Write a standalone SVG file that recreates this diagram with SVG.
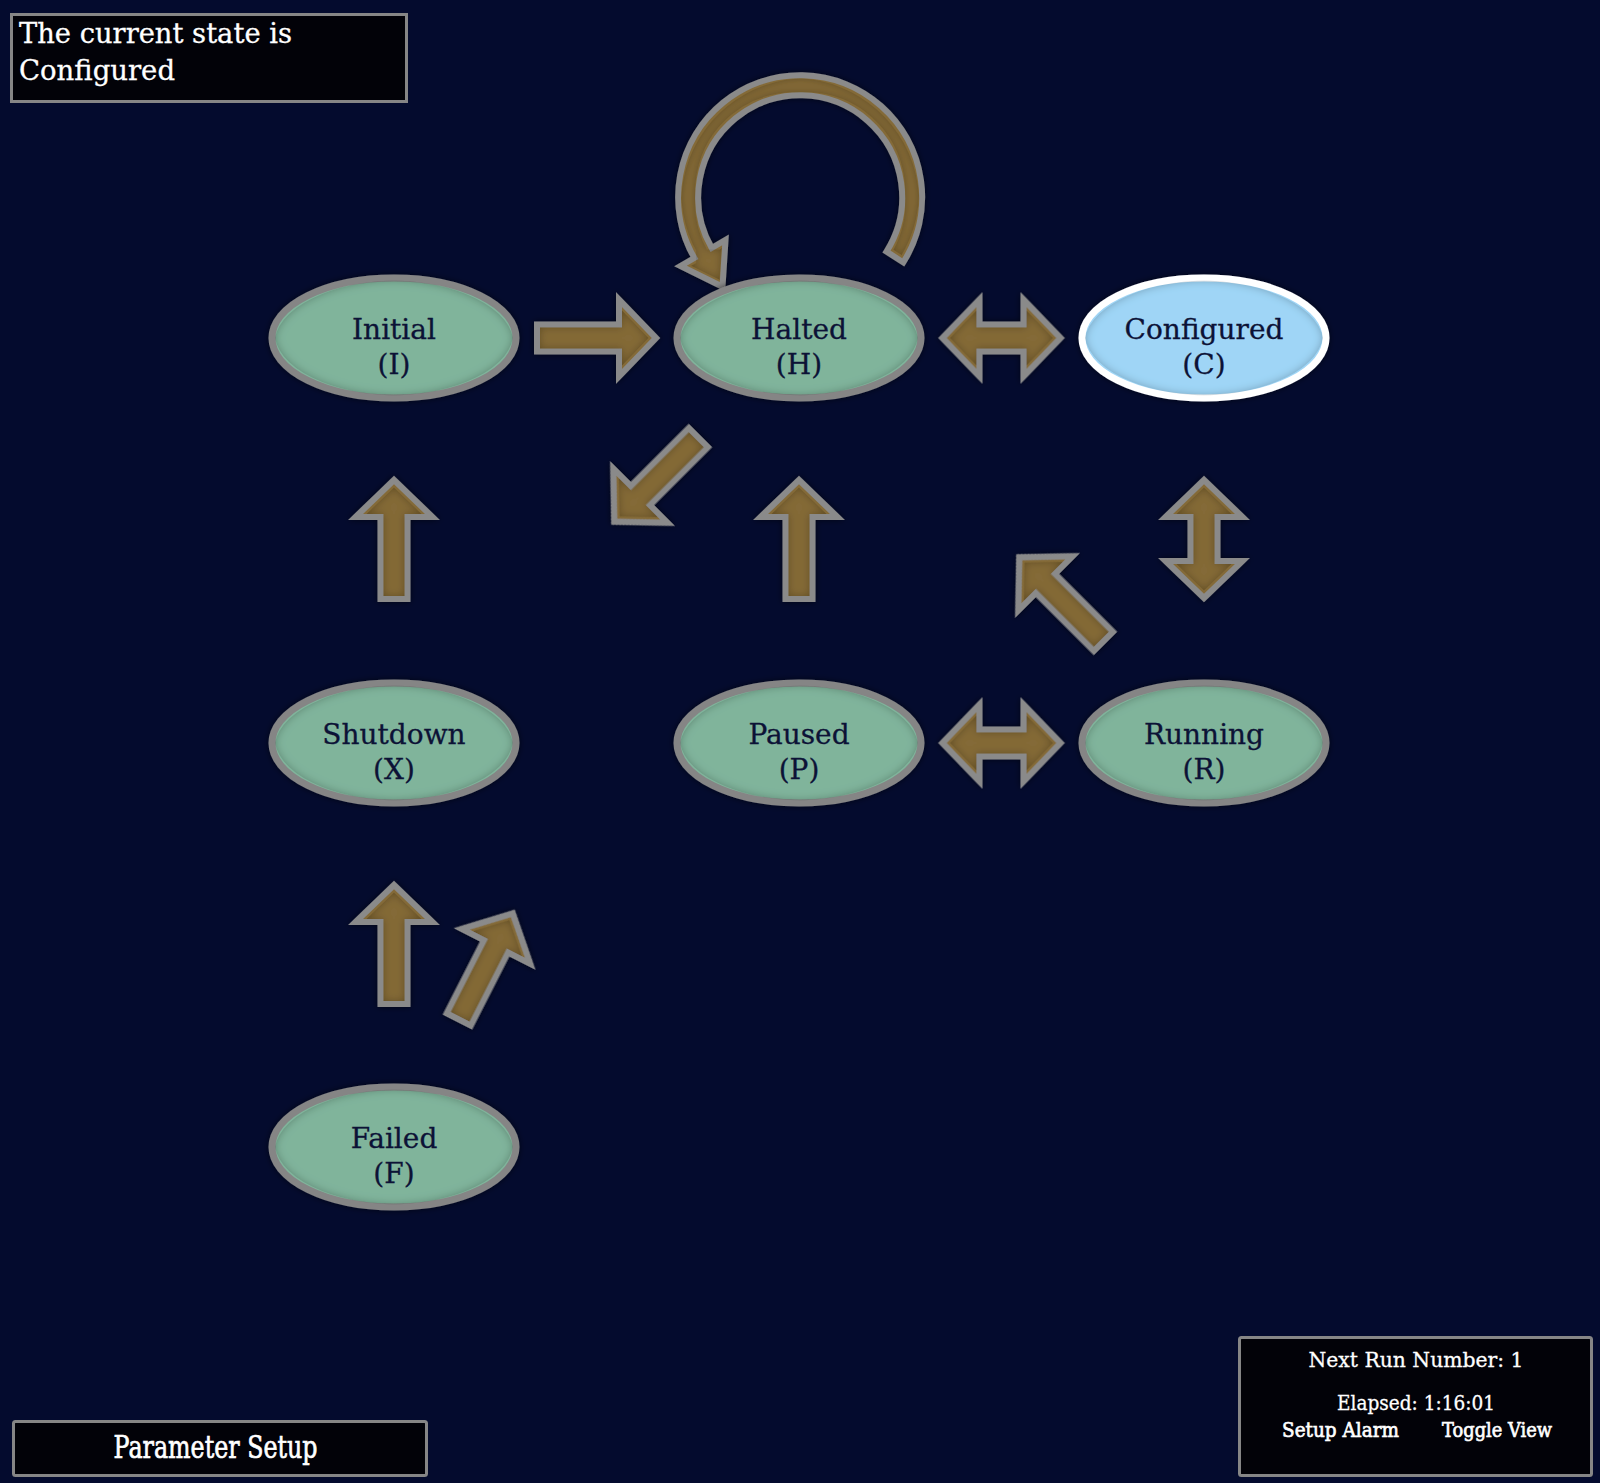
<svg xmlns="http://www.w3.org/2000/svg" xmlns:xlink="http://www.w3.org/1999/xlink" width="1600" height="1483" viewBox="0 0 1600 1483">
<defs>
<style>
.bg{fill:#040b2e}
.node{fill:#80b49b;stroke:#858585;stroke-width:7}
.node.current{fill:#9fd5f6;stroke:#ffffff}
.arrow{fill:#846b39;stroke:#8a8a8a;stroke-width:6;stroke-linejoin:miter}
.nt{font-family:"DejaVu Serif","Liberation Serif",serif;font-size:28px;fill:#0c1236;stroke:#0c1236;stroke-width:0.3;text-anchor:middle}
.panel{fill:#020208;stroke:#868686;stroke-width:3}
.pt{font-family:"DejaVu Serif","Liberation Serif",serif;fill:#ffffff;stroke:#ffffff;stroke-width:0.3}
.pt.heavy{stroke-width:0.7}
</style>
<filter id="fx" x="-20%" y="-20%" width="140%" height="140%">
<feGaussianBlur in="SourceAlpha" stdDeviation="3" result="ob"/>
<feComponentTransfer in="ob" result="outer"><feFuncA type="linear" slope="0.6"/></feComponentTransfer>
<feMorphology in="SourceAlpha" operator="erode" radius="6" result="core"/>
<feFlood flood-color="#000" flood-opacity="0.5"/>
<feComposite in2="core" operator="out"/>
<feGaussianBlur stdDeviation="4.5"/>
<feComposite in2="core" operator="in" result="inner"/>
<feMerge><feMergeNode in="outer"/><feMergeNode in="SourceGraphic"/><feMergeNode in="inner"/></feMerge>
</filter>
<path id="up" d="M0,-59 L38.5,-22 L13.5,-22 L13.5,60 L-13.5,60 L-13.5,-22 L-38.5,-22 Z"/>
<path id="dbl" d="M0,-59 L38.5,-22 L13.5,-22 L13.5,22 L38.5,22 L0,59 L-38.5,22 L-13.5,22 L-13.5,-22 L-38.5,-22 Z"/>
</defs>
<rect class="bg" x="0" y="0" width="1600" height="1483"/>

<g id="connectors">
<use xlink:href="#up" href="#up" class="arrow" filter="url(#fx)" transform="translate(597,338) rotate(90)"/>
<use xlink:href="#dbl" href="#dbl" class="arrow" filter="url(#fx)" transform="translate(1001.5,338) rotate(90)"/>
<use xlink:href="#dbl" href="#dbl" class="arrow" filter="url(#fx)" transform="translate(1001.5,743) rotate(90)"/>
<use xlink:href="#up" href="#up" class="arrow" filter="url(#fx)" transform="translate(394,539)"/>
<use xlink:href="#up" href="#up" class="arrow" filter="url(#fx)" transform="translate(799,539)"/>
<use xlink:href="#up" href="#up" class="arrow" filter="url(#fx)" transform="translate(394,944)"/>
<use xlink:href="#up" href="#up" class="arrow" filter="url(#fx)" transform="translate(486,966) rotate(27)"/>
<use xlink:href="#up" href="#up" class="arrow" filter="url(#fx)" transform="translate(656,480) rotate(225)"/>
<use xlink:href="#up" href="#up" class="arrow" filter="url(#fx)" transform="translate(1061,599) rotate(-45)"/>
<use xlink:href="#dbl" href="#dbl" class="arrow" filter="url(#fx)" transform="translate(1204,539)"/>
<path id="loop-halted" class="arrow" filter="url(#fx)" d="M903.3,262.4 A122,122 0 1 0 694.35,258 L680.5,266 L722.5,286.8 L725.5,240 L711.7,248 A102,102 0 1 1 886.5,251.6 Z"/>
</g>

<g id="node-initial">
<ellipse class="node" filter="url(#fx)" cx="394" cy="338" rx="122" ry="60"/>
<text class="nt" x="394" y="339">Initial</text>
<text class="nt" x="394" y="374">(I)</text>
</g>
<g id="node-halted">
<ellipse class="node" filter="url(#fx)" cx="799" cy="338" rx="122" ry="60"/>
<text class="nt" x="799" y="339">Halted</text>
<text class="nt" x="799" y="374">(H)</text>
</g>
<g id="node-configured">
<ellipse class="node current" filter="url(#fx)" cx="1204" cy="338" rx="122" ry="60"/>
<text class="nt" x="1204" y="339">Configured</text>
<text class="nt" x="1204" y="374">(C)</text>
</g>
<g id="node-shutdown">
<ellipse class="node" filter="url(#fx)" cx="394" cy="743" rx="122" ry="60"/>
<text class="nt" x="394" y="744">Shutdown</text>
<text class="nt" x="394" y="779">(X)</text>
</g>
<g id="node-paused">
<ellipse class="node" filter="url(#fx)" cx="799" cy="743" rx="122" ry="60"/>
<text class="nt" x="799" y="744">Paused</text>
<text class="nt" x="799" y="779">(P)</text>
</g>
<g id="node-running">
<ellipse class="node" filter="url(#fx)" cx="1204" cy="743" rx="122" ry="60"/>
<text class="nt" x="1204" y="744">Running</text>
<text class="nt" x="1204" y="779">(R)</text>
</g>
<g id="node-failed">
<ellipse class="node" filter="url(#fx)" cx="394" cy="1147" rx="122" ry="60"/>
<text class="nt" x="394" y="1148">Failed</text>
<text class="nt" x="394" y="1183">(F)</text>
</g>

<g id="state-box">
<rect class="panel" x="11.5" y="14.5" width="395" height="87"/>
<text class="pt" x="19" y="43" font-size="27.5" textLength="273" lengthAdjust="spacingAndGlyphs">The current state is</text>
<text class="pt" x="19" y="80" font-size="27.5" textLength="156" lengthAdjust="spacingAndGlyphs">Configured</text>
</g>

<g id="parameter-setup">
<rect class="panel" x="13.5" y="1421.5" width="413" height="54" rx="2"/>
<text class="pt heavy" x="113.5" y="1458" font-size="31" textLength="204" lengthAdjust="spacingAndGlyphs">Parameter Setup</text>
</g>

<g id="run-box">
<rect class="panel" x="1239.5" y="1337.5" width="352" height="138" rx="2"/>
<text class="pt" x="1308.5" y="1367" font-size="21" textLength="215" lengthAdjust="spacingAndGlyphs">Next Run Number: 1</text>
<text class="pt" x="1337" y="1410" font-size="21" textLength="158" lengthAdjust="spacingAndGlyphs">Elapsed: 1:16:01</text>
<text class="pt heavy" x="1282" y="1437" font-size="21" textLength="117" lengthAdjust="spacingAndGlyphs">Setup Alarm</text>
<text class="pt heavy" x="1442" y="1437" font-size="21" textLength="110" lengthAdjust="spacingAndGlyphs">Toggle View</text>
</g>
</svg>
